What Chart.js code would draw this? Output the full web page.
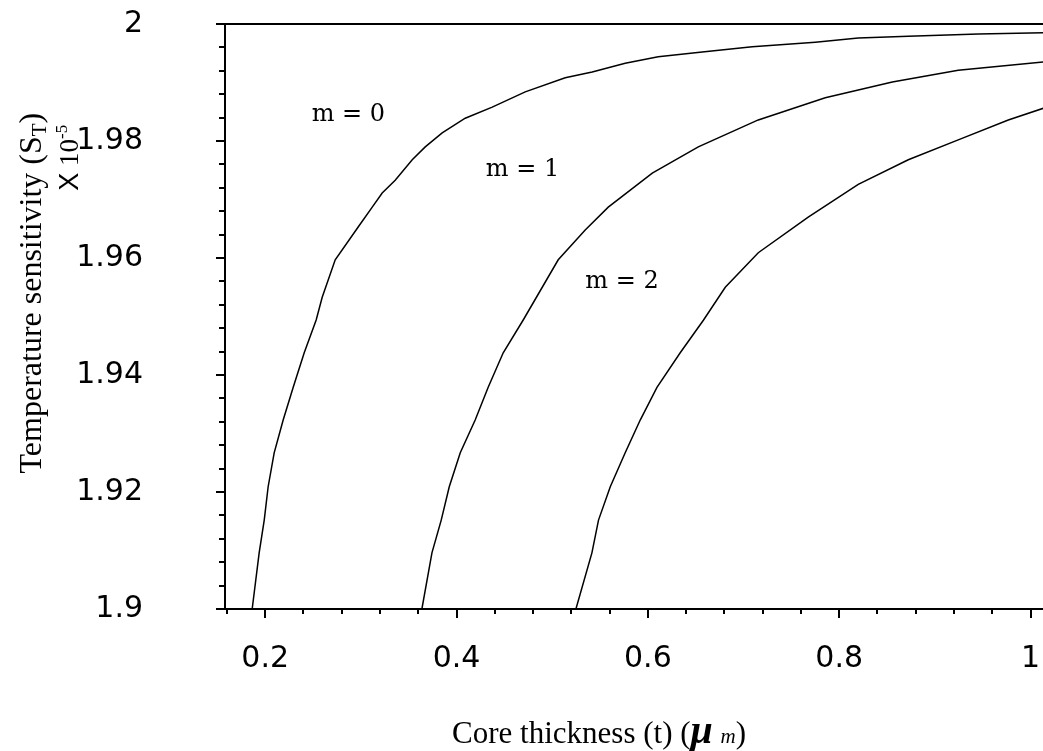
<!DOCTYPE html>
<html>
<head>
<meta charset="utf-8">
<script src="https://cdn.jsdelivr.net/npm/chart.js@4.4.1/dist/chart.umd.min.js"></script>
<style>
  html, body { margin: 0; padding: 0; background: #ffffff; }
  #wrap { width: 1043px; height: 751px; }
</style>
</head>
<body>
<div id="wrap"><canvas id="c" width="1043" height="751"></canvas></div>
<script>
// ---- data ----
const seriesNames = ['m = 0', 'm = 1', 'm = 2'];

const m0X = [0.1864,0.1937,0.1990,0.2031,0.2094,0.2188,0.2293,0.2408,0.2533,0.2596,0.2732,0.2972,0.3119,0.3223,0.3359,0.3537,0.3673,0.3850,0.4091,0.4373,0.4718,0.5136,0.5418,0.5763,0.6108,0.6568,0.7091,0.7750,0.8199,0.8722,0.9454,1.0133];
const m0Y = [1.9000,1.9096,1.9152,1.9209,1.9267,1.9323,1.9379,1.9438,1.9494,1.9533,1.9597,1.9653,1.9687,1.9711,1.9733,1.9768,1.9790,1.9814,1.9839,1.9858,1.9884,1.9908,1.9918,1.9933,1.9944,1.9952,1.9961,1.9969,1.9976,1.9979,1.9983,1.9985];

const m1X = [0.3638,0.3743,0.3840,0.3924,0.4039,0.4195,0.4331,0.4488,0.4697,0.5063,0.5345,0.5586,0.6046,0.6527,0.7154,0.7854,0.8555,0.9244,1.0133];
const m1Y = [1.9000,1.9096,1.9152,1.9209,1.9267,1.9323,1.9379,1.9438,1.9494,1.9597,1.9648,1.9687,1.9745,1.9790,1.9836,1.9874,1.9901,1.9921,1.9935];

const m2X = [0.5248,0.5415,0.5484,0.5607,0.5763,0.5920,0.6095,0.6338,0.6582,0.6809,0.7154,0.7676,0.8199,0.8722,0.9244,0.9767,1.0133];
const m2Y = [1.9000,1.9096,1.9152,1.9209,1.9267,1.9323,1.9379,1.9438,1.9494,1.9550,1.9609,1.9670,1.9726,1.9768,1.9802,1.9836,1.9856];

const xTickValues = [0.2, 0.4, 0.6, 0.8, 1.0];
const xTickLabels = ['0.2', '0.4', '0.6', '0.8', '1'];
const yTickValues = [1.9, 1.92, 1.94, 1.96, 1.98, 2.0];
const yTickLabels = ['1.9', '1.92', '1.94', '1.96', '1.98', '2'];

// curve annotations (data coordinates)
const curveLabelX = [0.287, 0.469, 0.573];
const curveLabelY = [1.9844, 1.9750, 1.9559];

// axis titles (pieces so that sub/superscripts can be drawn)
const xTitleParts = ['Core thickness (t) (', '\u03BC', ' ', 'm', ')'];
const yTitleParts = ['Temperature sensitivity (S', 'T', ')'];
const yTitle2Parts = ['X', ' 10', '-5'];

// ---- chart ----
const X_MIN = 0.158, X_MAX = 1.013, Y_MIN = 1.9, Y_MAX = 2.0;
const X_MINOR_START = 0.16, X_MINOR_STEP = 0.04;
const Y_MINOR_STEP = 0.004;

function toPoints(xs, ys) { return xs.map((v, i) => ({ x: v, y: ys[i] })); }

const lineStyle = { borderColor: '#000000', borderWidth: 1.5, pointRadius: 0, tension: 0, fill: false };

function drawParts(ctx, bx, by, rot, parts) {
  ctx.save();
  ctx.translate(bx, by);
  if (rot) ctx.rotate(rot);
  ctx.textAlign = 'left';
  ctx.textBaseline = 'alphabetic';
  ctx.fillStyle = '#000000';
  let cx = 0;
  parts.forEach(p => {
    ctx.font = p.f;
    ctx.fillText(p.t, cx, p.dy);
    cx += ctx.measureText(p.t).width;
  });
  ctx.restore();
}
function partsWidth(ctx, parts) {
  let w = 0;
  parts.forEach(p => { ctx.font = p.f; w += ctx.measureText(p.t).width; });
  return w;
}

const decor = {
  id: 'decor',
  afterDraw(chart) {
    const { ctx, chartArea: ca } = chart;
    const xs = chart.scales.x, ys = chart.scales.y;
    ctx.save();
    ctx.strokeStyle = '#000000';
    ctx.lineWidth = 2;
    ctx.beginPath();
    // top frame line
    ctx.moveTo(ca.left - 1, Math.round(ca.top));
    ctx.lineTo(ca.right, Math.round(ca.top));
    // minor x ticks
    for (let i = 0; ; i++) {
      const v = X_MINOR_START + i * X_MINOR_STEP;
      if (v > xs.max + 1e-9) break;
      const px = Math.round(xs.getPixelForValue(v));
      ctx.moveTo(px, ca.bottom);
      ctx.lineTo(px, ca.bottom + 5);
    }
    // minor y ticks
    for (let i = 0; ; i++) {
      const v = Y_MIN + i * Y_MINOR_STEP;
      if (v > ys.max + 1e-9) break;
      const py = Math.round(ys.getPixelForValue(v));
      ctx.moveTo(ca.left - 6, py);
      ctx.lineTo(ca.left, py);
    }
    ctx.stroke();

    // curve labels
    ctx.fillStyle = '#000000';
    ctx.font = '24px "DejaVu Serif"';
    ctx.textAlign = 'center';
    ctx.textBaseline = 'middle';
    seriesNames.forEach((t, i) => {
      ctx.fillText(t, xs.getPixelForValue(curveLabelX[i]), ys.getPixelForValue(curveLabelY[i]));
    });

    // y axis title, line 1 (rotated, subscript T)
    const p1 = [
      { t: yTitleParts[0], f: '32px "Liberation Serif"', dy: 0 },
      { t: yTitleParts[1], f: '21px "Liberation Serif"', dy: 5 },
      { t: yTitleParts[2], f: '32px "Liberation Serif"', dy: 0 }
    ];
    const w1 = partsWidth(ctx, p1);
    const cy = ca.top + (ca.bottom - ca.top) * 0.46;
    drawParts(ctx, 41, cy + w1 / 2, -Math.PI / 2, p1);

    // y axis title, line 2 (rotated, superscript)
    const p2 = [
      { t: yTitle2Parts[0], f: '27px "Liberation Sans"', dy: 0 },
      { t: yTitle2Parts[1], f: '27px "Liberation Serif"', dy: 0 },
      { t: yTitle2Parts[2], f: '17px "Liberation Serif"', dy: -11 }
    ];
    drawParts(ctx, 78, ys.getPixelForValue(1.9715), -Math.PI / 2, p2);

    // x axis title (large mu, small italic m)
    const p3 = [
      { t: xTitleParts[0], f: '31px "Liberation Serif"', dy: 0 },
      { t: xTitleParts[1], f: 'italic bold 40px "Liberation Serif"', dy: 0 },
      { t: xTitleParts[2], f: '31px "Liberation Serif"', dy: 0 },
      { t: xTitleParts[3], f: 'italic 21px "Liberation Serif"', dy: 0 },
      { t: xTitleParts[4], f: '31px "Liberation Serif"', dy: 0 }
    ];
    const w3 = partsWidth(ctx, p3);
    const cx = xs.getPixelForValue(0.549);
    drawParts(ctx, cx - w3 / 2, ca.bottom + 134, 0, p3);
    ctx.restore();
  }
};

new Chart(document.getElementById('c'), {
  type: 'line',
  data: {
    datasets: [
      Object.assign({ label: seriesNames[0], data: toPoints(m0X, m0Y) }, lineStyle),
      Object.assign({ label: seriesNames[1], data: toPoints(m1X, m1Y) }, lineStyle),
      Object.assign({ label: seriesNames[2], data: toPoints(m2X, m2Y) }, lineStyle)
    ]
  },
  options: {
    responsive: false,
    animation: false,
    devicePixelRatio: 1,
    layout: { padding: { top: 24, right: 0, bottom: 0, left: 0 } },
    plugins: { legend: { display: false }, tooltip: { enabled: false }, title: { display: false } },
    scales: {
      x: {
        type: 'linear',
        position: 'bottom',
        min: X_MIN,
        max: X_MAX,
        afterBuildTicks: s => { s.ticks = xTickValues.map(v => ({ value: v })); },
        afterFit: s => { s.height = 142; s.paddingLeft = 0; s.paddingRight = 0; },
        ticks: {
          callback: v => { const i = xTickValues.findIndex(t => Math.abs(t - v) < 1e-9); return i >= 0 ? xTickLabels[i] : ''; },
          font: { family: 'DejaVu Sans', size: 30 },
          color: '#000000',
          padding: 23,
          maxRotation: 0,
          autoSkip: false
        },
        grid: { drawOnChartArea: false, tickLength: 9, color: '#000000', lineWidth: 2 },
        border: { display: true, color: '#000000', width: 2 },
        title: { display: false }
      },
      y: {
        type: 'linear',
        position: 'left',
        min: Y_MIN,
        max: Y_MAX,
        afterBuildTicks: s => { s.ticks = yTickValues.map(v => ({ value: v })); },
        afterFit: s => { s.width = 225; s.paddingTop = 0; s.paddingBottom = 0; },
        ticks: {
          callback: v => { const i = yTickValues.findIndex(t => Math.abs(t - v) < 1e-9); return i >= 0 ? yTickLabels[i] : ''; },
          font: { family: 'DejaVu Sans', size: 30 },
          color: '#000000',
          padding: 73,
          autoSkip: false
        },
        grid: { drawOnChartArea: false, tickLength: 9, color: '#000000', lineWidth: 2 },
        border: { display: true, color: '#000000', width: 2 },
        title: { display: false }
      }
    }
  },
  plugins: [decor]
});
</script>
</body>
</html>
